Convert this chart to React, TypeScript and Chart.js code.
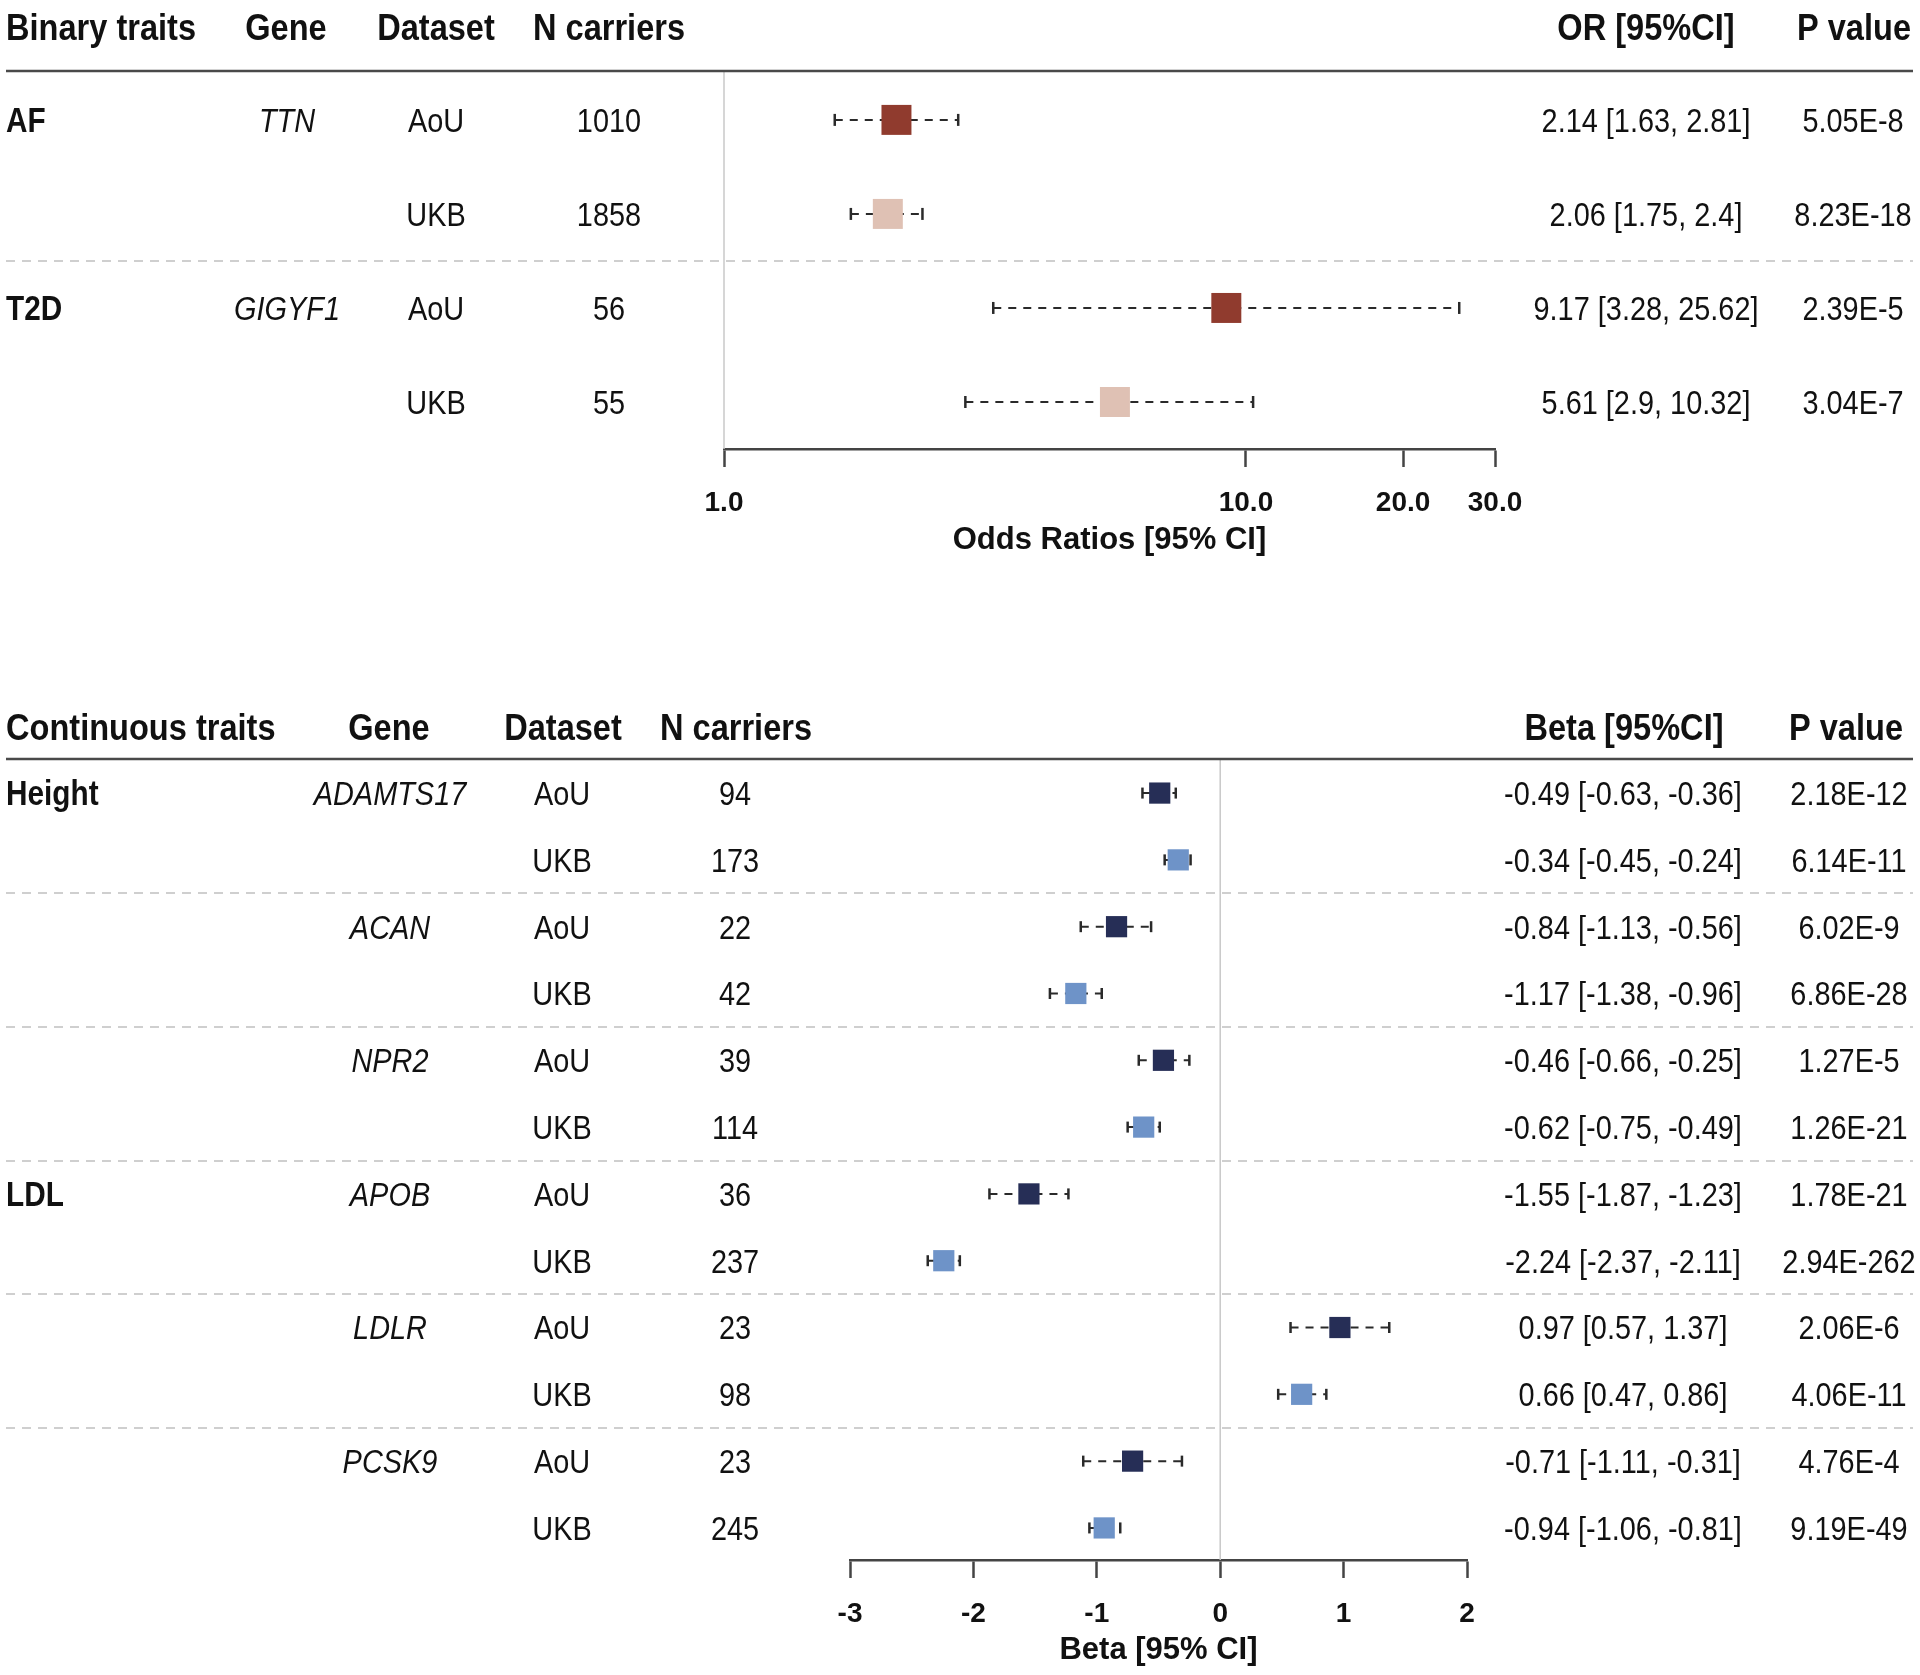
import React, { useEffect, useRef } from "react";
import { Chart, registerables } from "chart.js";

Chart.register(...registerables);

// ---------------- Binary traits (odds ratios) ----------------
const OR_TRAITS = ["AF", "", "T2D", ""];
const OR_GENES = ["TTN", "", "GIGYF1", ""];
const OR_DATASETS = ["AoU", "UKB", "AoU", "UKB"];
const OR_N = ["1010", "1858", "56", "55"];
const OR_EST = [2.14, 2.06, 9.17, 5.61];
const OR_LO = [1.63, 1.75, 3.28, 2.9];
const OR_HI = [2.81, 2.4, 25.62, 10.32];
const OR_P = ["5.05E-8", "8.23E-18", "2.39E-5", "3.04E-7"];
const OR_TICKS = [1, 10, 20, 30];

// ---------------- Continuous traits (beta) ----------------
const B_TRAITS = ["Height", "", "", "", "", "", "LDL", "", "", "", "", ""];
const B_GENES = ["ADAMTS17", "", "ACAN", "", "NPR2", "", "APOB", "", "LDLR", "", "PCSK9", ""];
const B_DATASETS = ["AoU", "UKB", "AoU", "UKB", "AoU", "UKB", "AoU", "UKB", "AoU", "UKB", "AoU", "UKB"];
const B_N = ["94", "173", "22", "42", "39", "114", "36", "237", "23", "98", "23", "245"];
const B_EST = [-0.49, -0.34, -0.84, -1.17, -0.46, -0.62, -1.55, -2.24, 0.97, 0.66, -0.71, -0.94];
const B_LO = [-0.63, -0.45, -1.13, -1.38, -0.66, -0.75, -1.87, -2.37, 0.57, 0.47, -1.11, -1.06];
const B_HI = [-0.36, -0.24, -0.56, -0.96, -0.25, -0.49, -1.23, -2.11, 1.37, 0.86, -0.31, -0.81];
const B_P = ["2.18E-12", "6.14E-11", "6.02E-9", "6.86E-28", "1.27E-5", "1.26E-21", "1.78E-21", "2.94E-262", "2.06E-6", "4.06E-11", "4.76E-4", "9.19E-49"];
const B_TICKS = [-3, -2, -1, 0, 1, 2];

const FAMILY = '"Liberation Sans", Arial, Helvetica, sans-serif';
const TEXT = "#111111";
const TEXT_DY = 2.5;

function txt(ctx: CanvasRenderingContext2D, s: string, x: number, y: number, align: CanvasTextAlign, font: string, sx = 0.85) {
  ctx.save();
  ctx.font = font;
  ctx.fillStyle = TEXT;
  ctx.textBaseline = "middle";
  ctx.textAlign = align;
  ctx.translate(x, y + TEXT_DY);
  ctx.scale(sx, 1);
  ctx.fillText(s, 0, 0);
  ctx.restore();
}

type Spec = {
  id: string;
  height: number;
  headerY: number;
  headers: { text: string; x: number; align: CanvasTextAlign }[];
  traits: string[];
  genes: string[];
  datasets: string[];
  ns: string[];
  est: number[];
  lo: number[];
  hi: number[];
  ps: string[];
  cols: { trait: number; gene: number; ds: number; n: number; eff: number; p: number };
  ref: number;
  aou: string;
  ukb: string;
  rect: number;
  capR: number;
  xType: "logarithmic" | "linear";
  xMin: number;
  xMax: number;
  ticks: number[];
  tickFmt: (v: number) => string;
  xTitle: string;
  titlePadBottom: number;
  scaleHeight: number;
  yMin: number;
  yMax: number;
  padding: { left: number; right: number; top: number; bottom: number };
};

function makePlugin(spec: Spec) {
  return {
    id: "table_" + spec.id,
    beforeDatasetsDraw(chart: any) {
      const ctx = chart.ctx as CanvasRenderingContext2D;
      const xs = chart.scales.x;
      const ys = chart.scales.y;
      const area = chart.chartArea;
      ctx.save();
      // separators between gene groups
      ctx.strokeStyle = "#cfcfcf";
      ctx.lineWidth = 2;
      ctx.setLineDash([9, 7]);
      spec.genes.forEach((g, i) => {
        if (i > 0 && g !== "") {
          const y = Math.round(ys.getPixelForValue(i - 0.5));
          ctx.beginPath();
          ctx.moveTo(6, y);
          ctx.lineTo(1913, y);
          ctx.stroke();
        }
      });
      ctx.setLineDash([]);
      // reference line
      const rx = xs.getPixelForValue(spec.ref);
      ctx.strokeStyle = "#c8c8c8";
      ctx.lineWidth = 1.5;
      ctx.beginPath();
      ctx.moveTo(rx, area.top);
      ctx.lineTo(rx, area.bottom);
      ctx.stroke();
      // header line
      ctx.strokeStyle = "#4a4a4a";
      ctx.lineWidth = 2.5;
      ctx.beginPath();
      ctx.moveTo(6, area.top);
      ctx.lineTo(1913, area.top);
      ctx.stroke();
      ctx.restore();
    },
    afterDraw(chart: any) {
      const ctx = chart.ctx as CanvasRenderingContext2D;
      const ys = chart.scales.y;
      const hFont = `bold 37px ${FAMILY}`;
      spec.headers.forEach((h) => txt(ctx, h.text, h.x, spec.headerY, h.align, hFont, 0.88));
      const c = spec.cols;
      spec.datasets.forEach((d, i) => {
        const y = ys.getPixelForValue(i);
        if (spec.traits[i]) txt(ctx, spec.traits[i], c.trait, y, "left", `bold 35px ${FAMILY}`);
        if (spec.genes[i]) txt(ctx, spec.genes[i], c.gene, y, "center", `italic 34px ${FAMILY}`);
        txt(ctx, d, c.ds, y, "center", `34px ${FAMILY}`);
        txt(ctx, spec.ns[i], c.n, y, "center", `34px ${FAMILY}`);
        txt(ctx, `${spec.est[i]} [${spec.lo[i]}, ${spec.hi[i]}]`, c.eff, y, "center", `34px ${FAMILY}`);
        txt(ctx, spec.ps[i], c.p, y, "center", `34px ${FAMILY}`);
      });
    },
  };
}

function Forest({ spec }: { spec: Spec }) {
  const ref = useRef<HTMLCanvasElement | null>(null);
  useEffect(() => {
    if (!ref.current) return;
    const datasets: any[] = [];
    datasets.push({
      label: "est",
      data: spec.est.map((v, i) => ({ x: v, y: i })),
      pointStyle: "rect",
      pointRadius: spec.rect,
      pointHoverRadius: spec.rect,
      pointBackgroundColor: spec.datasets.map((d) => (d === "AoU" ? spec.aou : spec.ukb)),
      backgroundColor: spec.datasets.map((d) => (d === "AoU" ? spec.aou : spec.ukb)),
      pointBorderWidth: 0,
      borderWidth: 0,
      showLine: false,
      order: 0,
    });
    spec.lo.forEach((lo, i) => {
      datasets.push({
        label: "ci" + i,
        data: [
          { x: lo, y: i },
          { x: spec.hi[i], y: i },
        ],
        showLine: true,
        borderColor: "#2a2a2a",
        borderWidth: 2,
        borderDash: [8, 7],
        pointStyle: "line",
        pointRotation: 90,
        rotation: 90,
        pointRadius: spec.capR,
        pointHoverRadius: spec.capR,
        pointBorderColor: "#2a2a2a",
        pointBorderWidth: 2.5,
        order: 1,
      });
    });
    const tickFont = { family: FAMILY, size: 28, weight: "bold" as const };
    const chart = new Chart(ref.current, {
      type: "scatter",
      data: { datasets },
      plugins: [makePlugin(spec)],
      options: {
        animation: false,
        responsive: false,
        devicePixelRatio: 1,
        events: [],
        layout: { padding: spec.padding },
        plugins: { legend: { display: false }, tooltip: { enabled: false } },
        scales: {
          x: {
            type: spec.xType,
            min: spec.xMin,
            max: spec.xMax,
            afterBuildTicks: (s: any) => {
              s.ticks = spec.ticks.map((v) => ({ value: v }));
            },
            afterFit: (s: any) => {
              s.height = spec.scaleHeight;
            },
            ticks: {
              callback: (v: any) => spec.tickFmt(Number(v)),
              font: tickFont,
              color: TEXT,
              padding: 19,
              maxRotation: 0,
              autoSkip: false,
            },
            grid: { drawOnChartArea: false, drawTicks: true, tickLength: 18, tickWidth: 2.5, tickColor: "#444" },
            border: { display: true, color: "#444", width: 2.5 },
            title: {
              display: true,
              text: spec.xTitle,
              color: TEXT,
              font: { family: FAMILY, size: 31, weight: "bold" },
              padding: { top: 0, bottom: spec.titlePadBottom },
            },
          } as any,
          y: { type: "linear", reverse: true, min: spec.yMin, max: spec.yMax, display: false },
        },
      },
    } as any);
    return () => chart.destroy();
  }, [spec]);
  return <canvas ref={ref} width={1920} height={spec.height} style={{ display: "block", width: 1920, height: spec.height }} />;
}

const TOP: Spec = {
  id: "or",
  height: 600,
  headerY: 27,
  headers: [
    { text: "Binary traits", x: 6, align: "left" },
    { text: "Gene", x: 286, align: "center" },
    { text: "Dataset", x: 436, align: "center" },
    { text: "N carriers", x: 609, align: "center" },
    { text: "OR [95%CI]", x: 1646, align: "center" },
    { text: "P value", x: 1854, align: "center" },
  ],
  traits: OR_TRAITS,
  genes: OR_GENES,
  datasets: OR_DATASETS,
  ns: OR_N,
  est: OR_EST,
  lo: OR_LO,
  hi: OR_HI,
  ps: OR_P,
  cols: { trait: 6, gene: 287, ds: 436, n: 609, eff: 1646, p: 1853 },
  ref: 1,
  aou: "#903b2e",
  ukb: "#dfc1b4",
  rect: 21.2,
  capR: 6,
  xType: "logarithmic",
  xMin: 1,
  xMax: 30,
  ticks: OR_TICKS,
  tickFmt: (v) => v.toFixed(1),
  xTitle: "Odds Ratios [95% CI]",
  titlePadBottom: 41,
  scaleHeight: 151,
  yMin: -0.52,
  yMax: 3.5,
  padding: { left: 724, right: 425, top: 71, bottom: 0 },
};

const BOTTOM: Spec = {
  id: "beta",
  height: 1075,
  headerY: 127,
  headers: [
    { text: "Continuous traits", x: 6, align: "left" },
    { text: "Gene", x: 389, align: "center" },
    { text: "Dataset", x: 563, align: "center" },
    { text: "N carriers", x: 736, align: "center" },
    { text: "Beta [95%CI]", x: 1624, align: "center" },
    { text: "P value", x: 1846, align: "center" },
  ],
  traits: B_TRAITS,
  genes: B_GENES,
  datasets: B_DATASETS,
  ns: B_N,
  est: B_EST,
  lo: B_LO,
  hi: B_HI,
  ps: B_P,
  cols: { trait: 6, gene: 390, ds: 562, n: 735, eff: 1623, p: 1849 },
  ref: 0,
  aou: "#262e56",
  ukb: "#6e93c8",
  rect: 15,
  capR: 5.5,
  xType: "linear",
  xMin: -3,
  xMax: 2,
  ticks: B_TICKS,
  tickFmt: (v) => String(v),
  xTitle: "Beta [95% CI]",
  titlePadBottom: 6,
  scaleHeight: 115,
  yMin: -0.51,
  yMax: 11.48,
  padding: { left: 850, right: 453, top: 159, bottom: 0 },
};

export default function App() {
  return (
    <div style={{ position: "absolute", left: 0, top: 0, width: 1920, height: 1675, background: "#ffffff", overflow: "hidden" }}>
      <Forest spec={TOP} />
      <Forest spec={BOTTOM} />
    </div>
  );
}
